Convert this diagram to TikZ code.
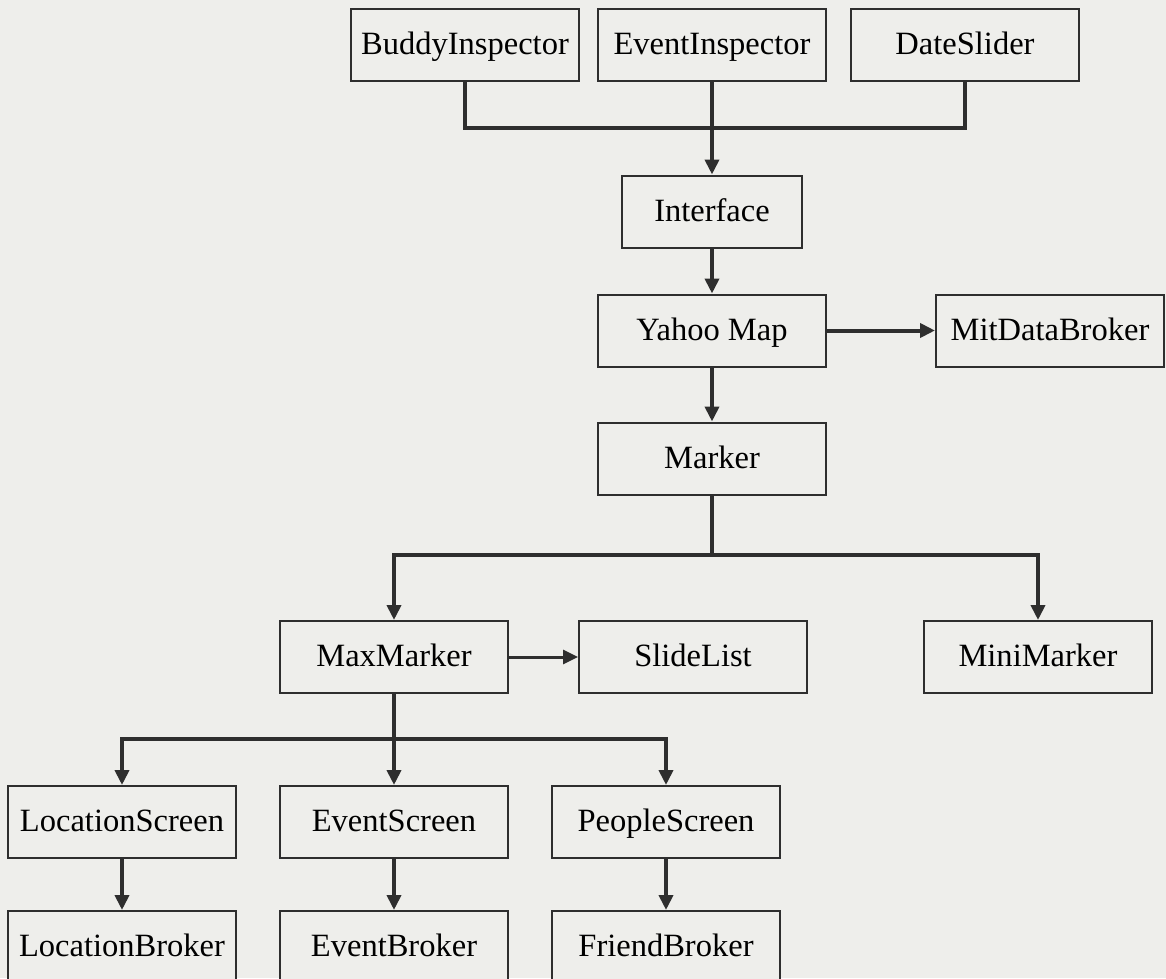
\documentclass[tikz,border=0pt]{standalone}
\usepackage{fontspec}
\setmainfont{Liberation Serif}
\usetikzlibrary{arrows.meta}
\definecolor{paper}{HTML}{EEEEEB}
\definecolor{ink}{HTML}{2E2E2E}

\begin{document}
\begin{tikzpicture}[x=0.2mm, y=-0.2mm,
  box/.style={draw=ink, line width=0.4mm, fill=paper, minimum width=45.6mm,
              minimum height=14.4mm, inner sep=0pt, text height=12pt, text depth=1pt,
              font=\fontsize{18.5}{20}\selectfont},
  link/.style={draw=ink, line width=0.8mm},
  flow/.style={link, -{Triangle[length=3mm, width=2.8mm]}}]

  \useasboundingbox[fill=paper] (0,0) rectangle (1166,978);
  \clip (0,0) rectangle (1166,978);

  % -- the three inputs on top, joined before the interface -----------------
  \node[box] (buddy)   at (465,44.5) {BuddyInspector};
  \node[box] (evinsp)  at (712,44.5) {EventInspector};
  \node[box] (dslider) at (965,44.5) {DateSlider};
  \node[box, minimum width=36mm] (iface) at (712,211.5) {Interface};
  \coordinate (topjoin) at (712,128);
  \draw[link] (buddy.south) |- (topjoin) -| (dslider.south);
  \draw[flow] (evinsp) -- (iface);

  % -- the map and what hangs off it --------------------------------------
  \node[box] (ymap)   at (712,330.5)  {Yahoo Map};
  \node[box] (mitdb)  at (1050,330.5) {MitDataBroker};
  \node[box] (marker) at (712,458.5)  {Marker};
  \draw[flow] (iface) -- (ymap);
  \draw[flow] (ymap) -- (mitdb);
  \draw[flow] (ymap) -- (marker);

  % -- the two markers ------------------------------------------------------
  \node[box] (maxm)  at (394,657)  {MaxMarker};
  \node[box] (slist) at (693,657)  {SlideList};
  \node[box] (minim) at (1038,657) {MiniMarker};
  \coordinate (msplit) at (712,555);
  \draw[flow] (marker.south) -- (msplit) -| (maxm.north);
  \draw[flow] (msplit) -| (minim.north);
  \draw[flow, line width=0.6mm] (maxm) -- (slist);

  % -- the screens, each with its broker below ------------------------------
  \coordinate (ssplit) at (394,739);
  \draw[link] (maxm.south) -- (ssplit);
  \foreach \nm/\xx/\ta/\tb in {loc/122/LocationScreen/LocationBroker,
                               ev/394/EventScreen/EventBroker,
                               ppl/666/PeopleScreen/FriendBroker}{
    \node[box] (\nm scr) at (\xx,822) {\ta};
    \node[box] (\nm brk) at (\xx,947) {\tb};
    \draw[flow] (ssplit) -| (\nm scr.north);
    \draw[flow] (\nm scr) -- (\nm brk);}

\end{tikzpicture}
\end{document}
